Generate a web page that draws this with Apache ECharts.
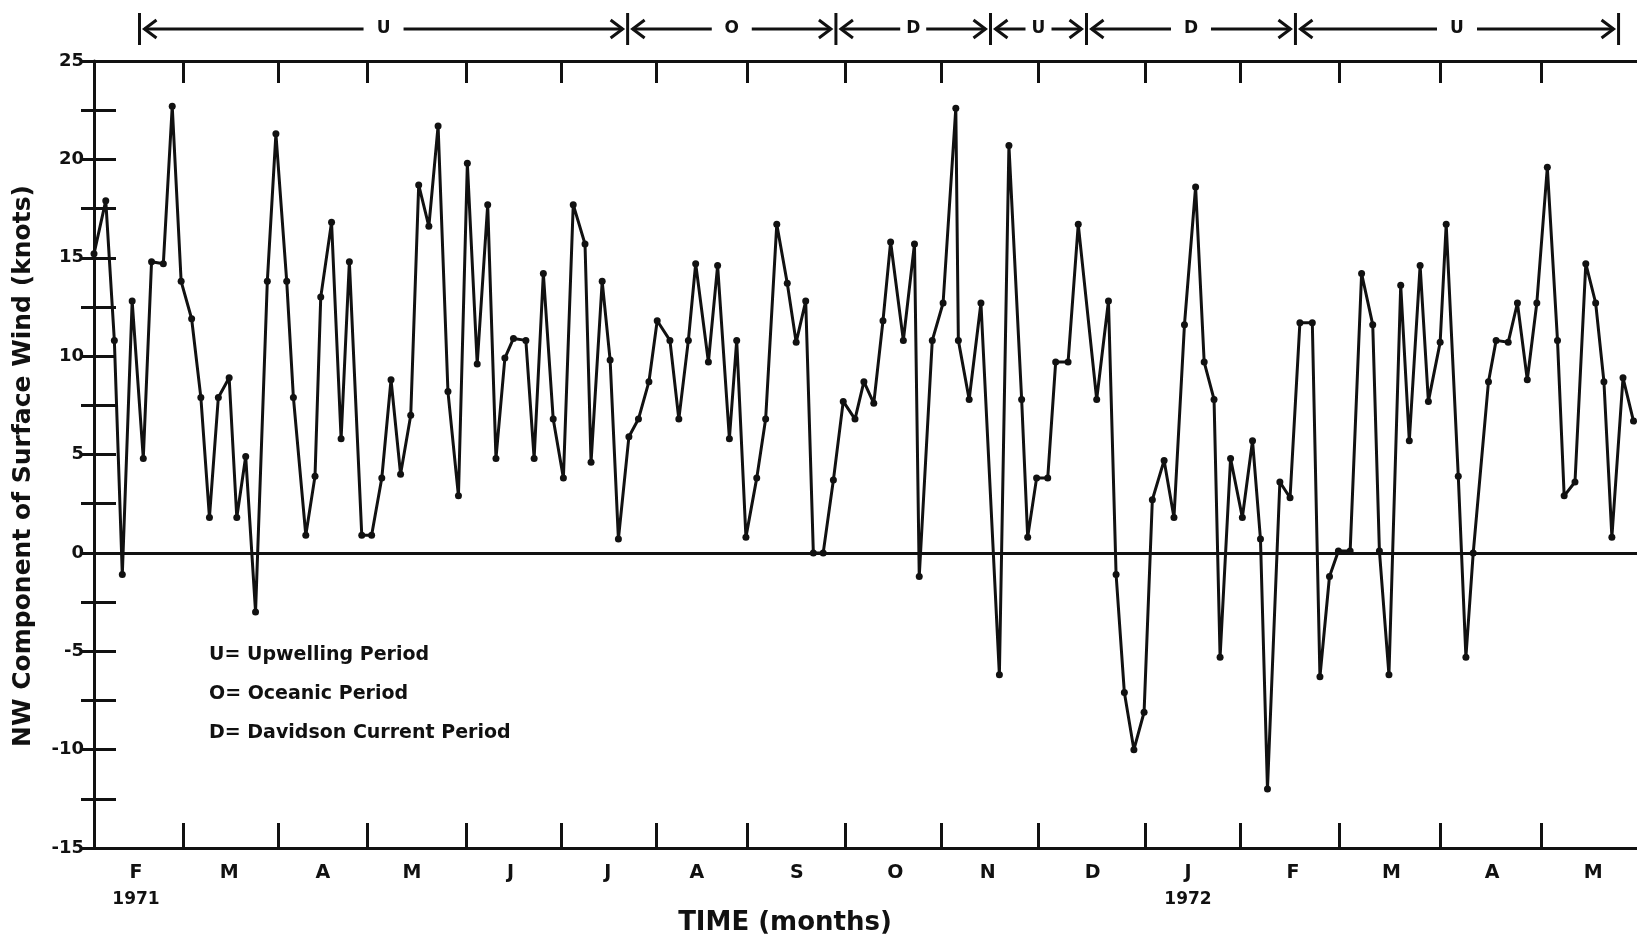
<!DOCTYPE html>
<html>
<head>
<meta charset="utf-8">
<script src="https://cdn.jsdelivr.net/npm/echarts@6/dist/echarts.min.js"></script>
<style>
html,body{margin:0;padding:0;background:#fff;}
#chart{width:1637px;height:941px;}
</style>
</head>
<body>
<div id="chart"></div>
<script>
// Days since 1 Feb 1971 and NW wind component (knots)
const days = [0,3.7,6.4,8.9,12.0,15.5,18.1,21.8,24.6,27.4,30.7,33.6,36.3,39.1,42.5,44.9,47.7,50.8,54.5,57.2,
60.6,62.7,66.6,69.5,71.3,74.7,77.7,80.3,84.2,87.3,90.5,93.4,96.4,99.6,102.1,105.3,108.2,111.3,114.6,117.4,
120.5,123.8,126.4,129.2,131.9,135.8,138.4,141.3,144.4,147.6,150.7,154.4,156.3,159.8,162.3,164.9,168.2,171.2,174.5,177.1,
181.1,183.9,186.9,189.2,193.2,196.1,199.8,202.1,205.0,208.4,211.2,214.7,218.0,220.8,223.8,226.2,229.3,232.5,235.6,239.3,
242.1,245.2,248.1,250.5,254.5,258.0,259.5,263.6,267.0,271.0,271.8,275.2,278.9,284.7,287.7,291.7,293.6,296.4,299.9,302.4,
306.3,309.5,315.3,319.0,321.4,324.0,327.0,330.2,332.8,336.5,339.6,342.9,346.4,349.1,352.2,354.1,357.4,361.1,364.3,366.8,
369.0,372.9,376.1,379.2,383.1,385.5,388.5,391.3,395.0,398.6,402.1,404.2,407.2,410.9,413.6,417.0,419.6,423.3,425.2,429.0,
431.4,433.7,438.5,440.9,444.7,447.6,450.7,453.7,457.0,460.2,462.3,465.7,469.1,472.2,474.8,477.3,480.8,484.1];
const wind = [15.2,17.9,10.8,-1.1,12.8,4.8,14.8,14.7,22.7,13.8,11.9,7.9,1.8,7.9,8.9,1.8,4.9,-3.0,13.8,21.3,
13.8,7.9,0.9,3.9,13.0,16.8,5.8,14.8,0.9,0.9,3.8,8.8,4.0,7.0,18.7,16.6,21.7,8.2,2.9,19.8,
9.6,17.7,4.8,9.9,10.9,10.8,4.8,14.2,6.8,3.8,17.7,15.7,4.6,13.8,9.8,0.7,5.9,6.8,8.7,11.8,
10.8,6.8,10.8,14.7,9.7,14.6,5.8,10.8,0.8,3.8,6.8,16.7,13.7,10.7,12.8,0,0,3.7,7.7,6.8,
8.7,7.6,11.8,15.8,10.8,15.7,-1.2,10.8,12.7,22.6,10.8,7.8,12.7,-6.2,20.7,7.8,0.8,3.8,3.8,9.7,
9.7,16.7,7.8,12.8,-1.1,-7.1,-10.0,-8.1,2.7,4.7,1.8,11.6,18.6,9.7,7.8,-5.3,4.8,1.8,5.7,0.7,
-12.0,3.6,2.8,11.7,11.7,-6.3,-1.2,0.1,0.1,14.2,11.6,0.1,-6.2,13.6,5.7,14.6,7.7,10.7,16.7,3.9,
-5.3,0,8.7,10.8,10.7,12.7,8.8,12.7,19.6,10.8,2.9,3.6,14.7,12.7,8.7,0.8,8.9,6.7];

// Axis annotations
const monthTickDays = [28.0,57.9,85.8,117.0,146.9,176.7,205.3,236.2,266.4,296.9,330.5,360.4,391.5,423.3,455.0];
const monthLabelDays = [13.2,42.5,72.0,100.0,131.0,161.6,189.6,221.0,252.0,281.0,314.0,344.0,377.0,408.0,439.6,471.4];
const monthLabels = ['F','M','A','M','J','J','A','S','O','N','D','J','F','M','A','M'];
const yearAtLabel = ['1971','','','','','','','','','','','1972','','','',''];
const periodBounds = [14.3,167.8,233.3,281.9,312.1,377.8,479.4];
const periodLabels = ['U','O','D','U','D','U'];
const legendLines = ['U= Upwelling Period','O= Oceanic Period','D= Davidson Current Period'];
const yTitle = 'NW Component of Surface Wind (knots)';
const xTitle = 'TIME (months)';

const FONT = 'DejaVu Sans';
const INK = '#111';
const chart = echarts.init(document.getElementById('chart'));
const seriesData = days.map((d,i)=>[d, wind[i]]);

const option = {
  animation: false,
  backgroundColor: '#fff',
  grid: {left: 94, right: 0, top: 61, height: 787, containLabel: false, outerBoundsMode: 'none'},
  xAxis: [{
    type: 'value', min: 0, max: 485.2, position: 'bottom',
    axisLine: {show: true, onZero: false, lineStyle: {color: INK, width: 3}},
    axisTick: {show: true, inside: true, length: 25, customValues: monthTickDays, lineStyle: {color: INK, width: 3}},
    axisLabel: {
      show: true, customValues: monthLabelDays, margin: 14,
      formatter: function(v){
        const i = monthLabelDays.indexOf(v);
        const m = monthLabels[i] || '';
        const y = yearAtLabel[i] || '';
        return y ? '{m|' + m + '}\n{y|' + y + '}' : '{m|' + m + '}';
      },
      rich: {
        m: {fontFamily: FONT, fontWeight: 'bold', fontSize: 19, color: INK, lineHeight: 22},
        y: {fontFamily: FONT, fontWeight: 'bold', fontSize: 17, color: INK, lineHeight: 32}
      }
    },
    splitLine: {show: false}
  }, {
    type: 'value', min: 0, max: 485.2, position: 'top',
    axisLine: {show: true, onZero: false, lineStyle: {color: INK, width: 3}},
    axisTick: {show: true, inside: true, length: 22, customValues: monthTickDays, lineStyle: {color: INK, width: 3}},
    axisLabel: {show: false},
    splitLine: {show: false}
  }],
  yAxis: [{
    type: 'value', min: -15, max: 25, interval: 2.5, position: 'left',
    axisLine: {show: true, onZero: false, lineStyle: {color: INK, width: 3}},
    axisTick: {show: true, inside: true, length: 22, lineStyle: {color: INK, width: 3}},
    axisLabel: {
      margin: 10, fontFamily: FONT, fontWeight: 'bold', fontSize: 18, color: INK,
      formatter: v => (v % 5 === 0 ? String(v) : '')
    },
    splitLine: {show: false}
  }, {
    type: 'value', min: -15, max: 25, interval: 2.5, position: 'right',
    axisLine: {show: false},
    axisTick: {show: true, inside: true, length: 13, lineStyle: {color: INK, width: 3}},
    axisLabel: {show: false},
    splitLine: {show: false}
  }],
  series: [{
    type: 'line', xAxisIndex: 0, yAxisIndex: 0,
    data: seriesData,
    symbol: 'circle', symbolSize: 7, showSymbol: true,
    lineStyle: {color: INK, width: 3},
    itemStyle: {color: INK},
    markLine: {
      silent: true, symbol: 'none', label: {show: false},
      lineStyle: {color: INK, width: 2.8, type: 'solid'},
      data: [{yAxis: 0}]
    }
  }]
};
chart.setOption(option);

function buildGraphics(){
  const els = [];
  const yA = 29;
  const px = periodBounds.map(d => chart.convertToPixel({xAxisIndex: 0}, d));
  px.forEach(p => els.push({type: 'line', shape: {x1: p, y1: 13, x2: p, y2: 45}, style: {stroke: INK, lineWidth: 3}}));
  for (let i = 0; i < periodLabels.length; i++){
    const a = px[i], b = px[i+1], c = (a + b) / 2;
    const gap = (b - a) > 200 ? 20 : 13;
    const ta = a + 5, tb = b - 5;
    els.push({type: 'line', shape: {x1: ta, y1: yA, x2: c - gap, y2: yA}, style: {stroke: INK, lineWidth: 3}});
    els.push({type: 'line', shape: {x1: c + gap, y1: yA, x2: tb, y2: yA}, style: {stroke: INK, lineWidth: 3}});
    els.push({type: 'polyline', shape: {points: [[ta + 12, yA - 9], [ta, yA], [ta + 12, yA + 9]]}, style: {stroke: INK, lineWidth: 3, fill: null}});
    els.push({type: 'polyline', shape: {points: [[tb - 12, yA - 9], [tb, yA], [tb - 12, yA + 9]]}, style: {stroke: INK, lineWidth: 3, fill: null}});
    els.push({type: 'text', x: c, y: yA, style: {text: periodLabels[i], font: 'bold 17px "' + FONT + '"', fill: INK,
      textAlign: 'center', textVerticalAlign: 'middle', align: 'center', verticalAlign: 'middle'}});
  }
  const ly = [655, 694, 733];
  legendLines.forEach((t, i) => els.push({type: 'text', x: 209, y: ly[i], style: {text: t, font: 'bold 19px "' + FONT + '"', fill: INK,
    textAlign: 'left', textVerticalAlign: 'middle', align: 'left', verticalAlign: 'middle'}}));
  els.push({type: 'text', x: 785, y: 923, style: {text: xTitle, font: 'bold 26px "' + FONT + '"', fill: INK,
    textAlign: 'center', textVerticalAlign: 'middle', align: 'center', verticalAlign: 'middle'}});
  els.push({type: 'text', x: 23, y: 466, rotation: Math.PI / 2, style: {text: yTitle, font: 'bold 25px "' + FONT + '"', fill: INK,
    textAlign: 'center', textVerticalAlign: 'middle', align: 'center', verticalAlign: 'middle'}});
  chart.setOption({graphic: {elements: els}});
}
buildGraphics();
</script>
</body>
</html>
